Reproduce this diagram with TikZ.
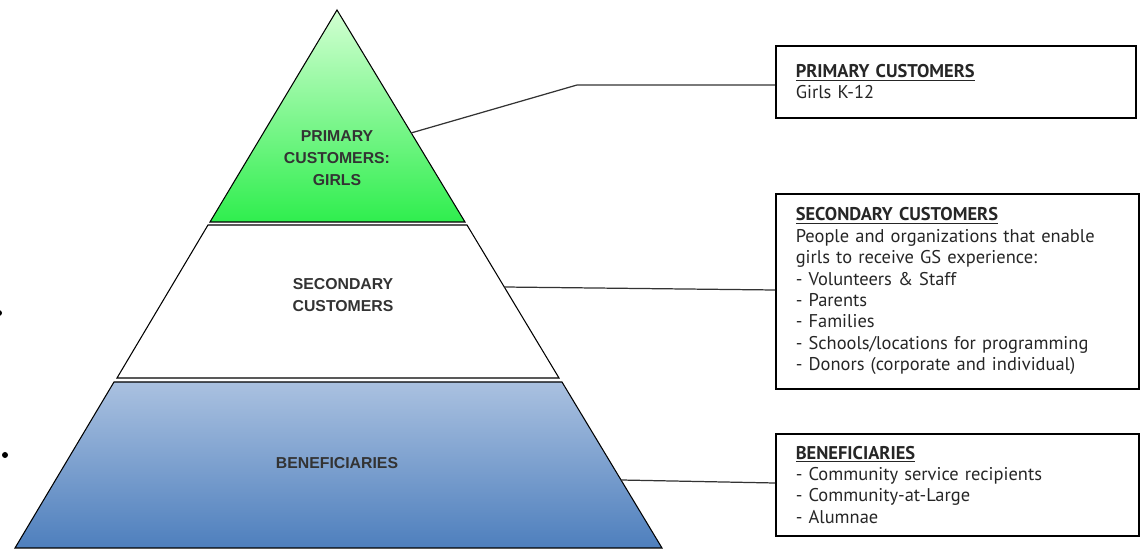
\documentclass[tikz,border=0pt]{standalone}
\usepackage{fontspec}
\setmainfont{PT Sans}
\newfontfamily\lvlfont{Liberation Sans}
\usepackage{tikz}
\usetikzlibrary{arrows.meta,positioning,calc}

\definecolor{grnTop}{HTML}{D2FFD2}
\definecolor{grnBot}{HTML}{2FEE4E}
\definecolor{bluTop}{HTML}{AAC1E0}
\definecolor{bluBot}{HTML}{4E7FBD}

\begin{document}
\begin{tikzpicture}[x=0.02cm, y=-0.02cm,
  level/.style={draw=black, line width=0.6pt},
  lvllabel/.style={align=center, font=\lvlfont\bfseries\fontsize{9}{12.5}\selectfont, text=black!80},
  infobox/.style={draw, line width=0.9pt, anchor=north west, align=left, text width=6.4cm,
    inner xsep=0.4cm, font=\fontsize{10.5}{12.2}\selectfont, text=black!85},
  link/.style={draw=black!80, line width=0.7pt}]
\useasboundingbox (0,0) rectangle (1140,550);

% pyramid levels
\path[level, top color=grnTop, bottom color=grnBot] (337,10) -- (465,222) -- (210,222) -- cycle;
\path[level, fill=white] (208,225) -- (467,225) -- (559,378) -- (117,378) -- cycle;
\path[level, top color=bluTop, bottom color=bluBot] (114,382) -- (562,382) -- (662,548) -- (15,548) -- cycle;

\node[lvllabel] (girls) at (337,158) {PRIMARY\\CUSTOMERS:\\GIRLS};
\node[lvllabel] (second) at (343,295) {SECONDARY\\CUSTOMERS};
\node[lvllabel] (benef) at (337,463) {BENEFICIARIES};

% description boxes
\node[infobox, minimum height=72*0.02cm] (primbox) at (775,45)
  {\textbf{\underline{PRIMARY CUSTOMERS}}\\Girls K-12};
\node[infobox, text width=6.46cm, minimum height=195*0.02cm] (secbox) at (775,193)
  {\textbf{\underline{SECONDARY CUSTOMERS}}\\People and organizations that enable\\girls to receive GS experience:\\- Volunteers \& Staff\\- Parents\\- Families\\- Schools/locations for programming\\- Donors (corporate and individual)};
\node[infobox, text width=6.46cm, minimum height=102*0.02cm] (benbox) at (775,433)
  {\textbf{\underline{BENEFICIARIES}}\\- Community service recipients\\- Community-at-Large\\- Alumnae};

% connectors
\coordinate (p1) at (411,133);
\coordinate (k1) at (577,85);
\coordinate (p2) at (504,287);
\coordinate (p3) at (621,480);
\draw[link] (p1) -- (k1) -- (primbox.west |- k1);
\draw[link] (p2) -- (secbox.west |- 0,290);
\draw[link] (p3) -- (benbox.west |- 0,483);

% stray bullets
\fill (-1,313) circle (3);
\fill (5,455) circle (3);
\end{tikzpicture}
\end{document}
